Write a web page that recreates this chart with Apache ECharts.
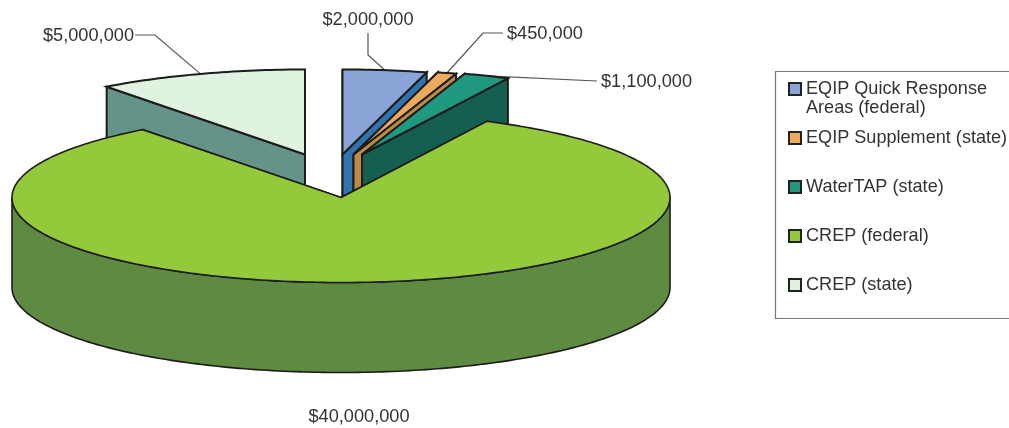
<!DOCTYPE html>
<html>
<head>
<meta charset="utf-8">
<style>html,body{margin:0;padding:0;background:#fff;overflow:hidden}#chart{width:1009px;height:428px}</style>
<script src="https://cdn.jsdelivr.net/npm/echarts@6/dist/echarts.min.js"></script>
</head>
<body>
<div id="chart"></div>
<script>
// Funding sources, clockwise from twelve o'clock
const programs = ['EQIP Quick Response\nAreas (federal)', 'EQIP Supplement (state)', 'WaterTAP (state)', 'CREP (federal)', 'CREP (state)'];
const amounts = [2000000, 450000, 1100000, 40000000, 5000000];
const topColors = ['#8ba4d8', '#eeaa5c', '#1f9a80', '#95c93c', '#e0f3e0'];
const wallColors = ['#2f74ad', '#bf8a48', '#145f50', '#5f8a41', '#64938a'];

// Painting order, back slices first
const paintOrder = [4, 0, 1, 2, 3];

// Pie geometry
const pieCx = 341, pieCy = 197.5, radiusX = 329, radiusY = 85, depth = 90;
const explodeX = [1.5, 12.5, 21, 0, -36];
const explodeY = [-43, -43, -43, 0, -43];

// Label placement: text anchor, alignment, and leader path from the rim to the text
const labelX = [368, 507, 601, 359, 134];
const labelY = [20, 34, 82, 417, 36];
const labelAlign = ['center', 'left', 'left', 'center', 'right'];
const leaderPaths = [
  [[368, 55], [368, 33]],
  [[483, 33], [503, 33]],
  [[597, 81]],
  [],
  [[155, 35], [135, 35]]
];

const total = amounts.reduce((a, b) => a + b, 0);
const money = v => '$' + v.toLocaleString('en-US');

// Oblique projection of a pie angle (degrees clockwise from north)
function rim(cx, cy, deg, drop) {
  const r = deg * Math.PI / 180;
  return [cx + radiusX * Math.sin(r), cy - radiusY * Math.cos(r) + drop];
}
function arc(cx, cy, from, to, drop) {
  const pts = [];
  const n = Math.max(2, Math.ceil(Math.abs(to - from)));
  for (let i = 0; i <= n; i++) pts.push(rim(cx, cy, from + (to - from) * i / n, drop));
  return pts;
}

function sliceRenderer(idx) {
  return function (params, api) {
    const value = api.value(0);
    const before = amounts.slice(0, idx).reduce((a, b) => a + b, 0);
    const start = before / total * 360;
    const end = start + value / total * 360;
    const mid = (start + end) / 2;
    const cx = pieCx + explodeX[idx];
    const cy = pieCy + explodeY[idx];
    const outline = { stroke: '#1c1c1c', lineWidth: idx === 3 ? 1.6 : 2, lineJoin: 'miter' };
    const wallStyle = Object.assign({ fill: wallColors[idx] }, outline);
    const children = [];

    // Leader and value label
    const tip = rim(cx, cy, mid, 0);
    if (leaderPaths[idx].length) {
      children.push({
        type: 'polyline',
        shape: { points: [tip].concat(leaderPaths[idx]) },
        style: { stroke: '#555', lineWidth: 1.2, fill: null }
      });
    }
    children.push({
      type: 'text',
      style: {
        text: money(value), x: labelX[idx], y: labelY[idx],
        align: labelAlign[idx], verticalAlign: 'middle',
        font: '18.2px "Liberation Sans", Arial, sans-serif', fill: '#333'
      }
    });

    // Radial walls under the top face
    [start, end].forEach(a => {
      const p = rim(cx, cy, a, 0);
      children.push({
        type: 'polygon',
        shape: { points: [[cx, cy], p, [p[0], p[1] + depth], [cx, cy + depth]] },
        style: wallStyle
      });
    });

    // Outer wall, front half of the rim only
    const wallFrom = Math.max(start, 90), wallTo = Math.min(end, 270);
    if (wallTo > wallFrom) {
      children.push({
        type: 'polygon',
        shape: { points: arc(cx, cy, wallFrom, wallTo, 0).concat(arc(cx, cy, wallTo, wallFrom, depth)) },
        style: wallStyle
      });
    }

    // Top face
    children.push({
      type: 'polygon',
      shape: { points: [[cx, cy]].concat(arc(cx, cy, start, end, 0)) },
      style: Object.assign({ fill: topColors[idx] }, outline)
    });
    return { type: 'group', children };
  };
}

const chart = echarts.init(document.getElementById('chart'), null, { renderer: 'canvas' });
chart.setOption({
  animation: false,
  backgroundColor: '#fff',
  legend: {
    data: programs,
    orient: 'vertical',
    left: 788,
    top: 60.5,
    padding: 0,
    itemGap: -8,
    itemWidth: 12,
    itemHeight: 12,
    selectedMode: false,
    icon: 'rect',
    itemStyle: { borderColor: '#222', borderWidth: 2 },
    formatter: name => '\n' + (name.indexOf('\n') < 0 ? name + '\n' : name),
    textStyle: {
      fontFamily: '"Liberation Sans", Arial, sans-serif',
      fontSize: 18.1, lineHeight: 19, color: '#333'
    }
  },
  graphic: [{
    type: 'rect', z: 0,
    shape: { x: 775.5, y: 71.5, width: 260, height: 247 },
    style: { fill: '#fff', stroke: '#777', lineWidth: 1.2 }
  }],
  series: programs.map((name, i) => ({
    type: 'custom',
    name,
    coordinateSystem: 'none',
    z: 2 + paintOrder.indexOf(i),
    itemStyle: { color: topColors[i] },
    data: [[amounts[i]]],
    renderItem: sliceRenderer(i),
    silent: true
  }))
});
</script>
</body>
</html>
